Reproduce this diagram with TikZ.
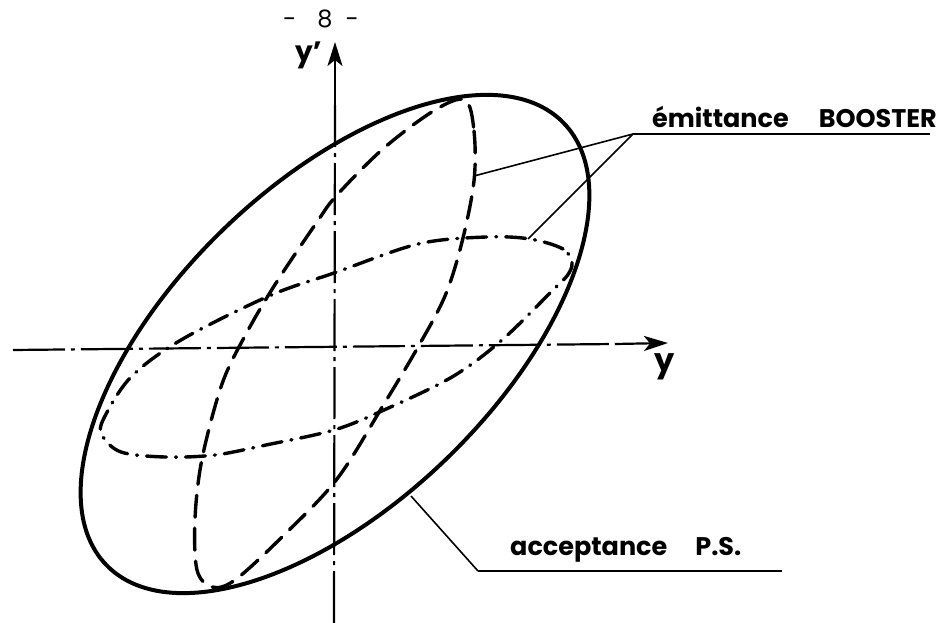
\documentclass[tikz,border=0pt]{standalone}
\usepackage{fontspec}
\setmainfont{Poppins}
\usetikzlibrary{arrows.meta}
\begin{document}
\begin{tikzpicture}[x=1pt,y=-1pt,
  solidcurve/.style={line width=4pt, line join=round},
  longdash/.style={line width=3.4pt, line cap=round, dash pattern=on 22pt off 11pt},
  chaindash/.style={line width=3.4pt, line cap=round, dash pattern=on 20pt off 9pt on 1pt off 9pt},
  axisline/.style={line width=2.2pt, dash pattern=on 52pt off 6pt on 4pt off 6pt},
  tipstyle/.style={line width=2.2pt, -{Stealth[length=24pt,width=15pt,inset=6pt]}},
  leader/.style={line width=1.6pt},
  uline/.style={line width=2pt},
  lab/.style={inner sep=0pt, anchor=base west, font=\bfseries\fontsize{25.5}{30}\selectfont},
  axlab/.style={inner sep=0pt, anchor=base west},
  ]
\useasboundingbox (0,0) rectangle (946,623);

% axes
\coordinate (vbot) at (334,623);
\coordinate (vmid) at (335,105);
\coordinate (vtop) at (335,42);
\coordinate (hleft) at (13,350);
\coordinate (hmid) at (615,344);
\coordinate (hright) at (668,343);
\draw[axisline] (vbot) -- (vmid);
\draw[tipstyle] (vmid) -- (vtop);
\draw[axisline] (hleft) -- (hmid);
\draw[tipstyle] (hmid) -- (hright);

% page number and axis labels
\node[axlab, font=\fontsize{24}{26}\selectfont] (pagenum) at (283,28) {-\hspace{21pt}8\hspace{13pt}-};
\node[axlab, font=\bfseries\fontsize{28}{30}\selectfont] (yprime) at (295,62) {y'};
\node[axlab, font=\bfseries\fontsize{32}{34}\selectfont] (ylab) at (654,371) {y};

% acceptance P.S. (solid)
\draw[solidcurve, rotate around={44:(335,344)}] (335,344) ellipse [x radius=318, y radius=160];

% emittance (long dashes)
\draw[longdash] plot[smooth cycle, tension=0.55] coordinates {
 (465,100) (474,131) (474,181) (462,242) (445,296) (418,347) (384,404)
 (337,479) (283,536) (235,580) (212,587) (197,570) (195,519) (202,459)
 (222,384) (246,334) (276,283) (317,222) (337,195) (384,148) (435,110)};

% emittance (dash-dot)
\draw[chaindash] plot[smooth cycle, tension=0.55] coordinates {
 (572,263) (563,249) (530,239) (486,237) (418,244) (334,273) (269,296)
 (181,340) (131,377) (104,418) (102,435) (121,452) (165,457) (215,455)
 (266,445) (334,430) (384,410) (452,377) (502,340) (553,290) (567,276)};

% labels
\node[lab] (emit) at (652,128) {émittance\hspace{30pt}BOOSTER};
\node[lab] (accept) at (510,555) {acceptance\hspace{28pt}P.S.};

% leaders
\coordinate (eb) at (633,134);
\coordinate (ebend) at (930,134);
\coordinate (edash) at (474,176);
\coordinate (edot) at (528,239);
\draw[uline] (eb) -- (ebend);
\draw[leader] (eb) -- (edash);
\draw[leader] (eb) -- (edot);

\coordinate (as) at (411,496);
\coordinate (ac) at (478,571);
\coordinate (aend) at (782,571);
\draw[leader] (as) -- (ac);
\draw[uline] (ac) -- (aend);
\end{tikzpicture}
\end{document}
